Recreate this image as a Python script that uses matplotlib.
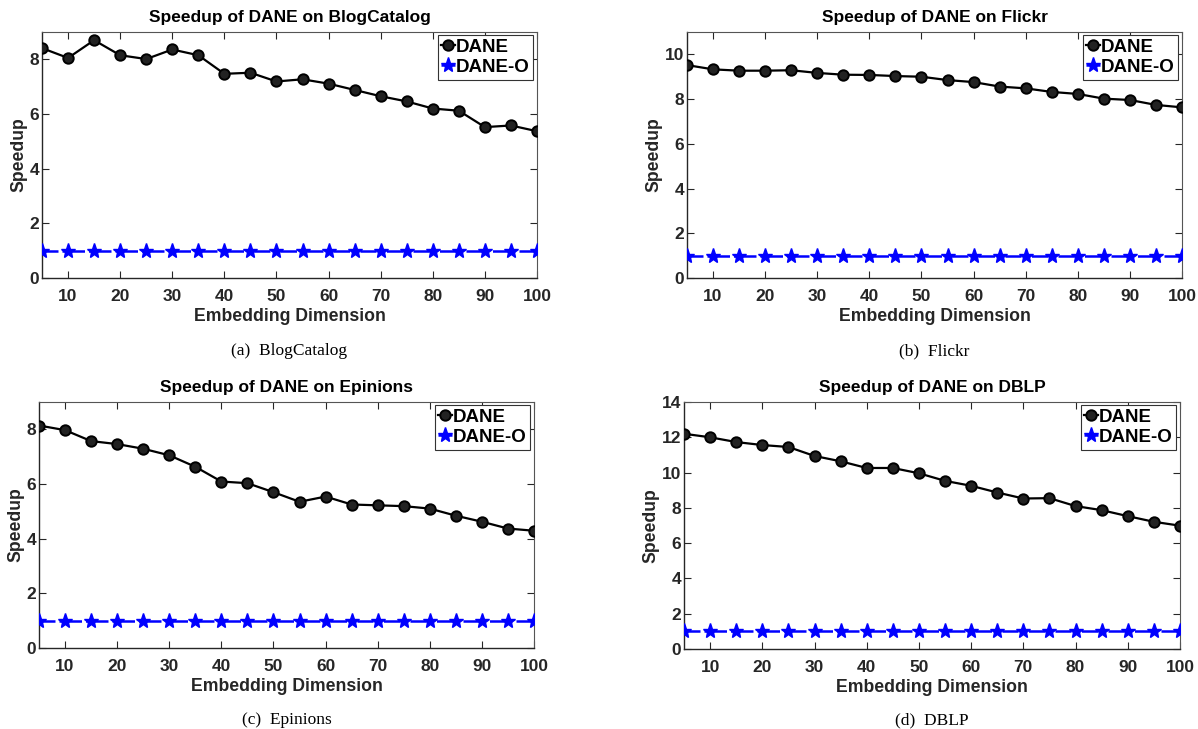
import matplotlib
matplotlib.use("Agg")
import matplotlib.pyplot as plt

dims = [5, 10, 15, 20, 25, 30, 35, 40, 45, 50, 55, 60, 65, 70, 75, 80, 85, 90, 95, 100]

blog_dane = [8.41, 8.05, 8.70, 8.15, 8.01, 8.36, 8.15, 7.47, 7.51, 7.19, 7.27, 7.11, 6.88, 6.65, 6.46, 6.20, 6.12, 5.52, 5.58, 5.37]
flickr_dane = [9.52, 9.33, 9.27, 9.27, 9.29, 9.17, 9.09, 9.08, 9.03, 9.00, 8.85, 8.76, 8.56, 8.48, 8.32, 8.23, 8.02, 7.96, 7.74, 7.63]
epinions_dane = [8.14, 7.97, 7.57, 7.46, 7.29, 7.05, 6.63, 6.09, 6.03, 5.70, 5.35, 5.54, 5.25, 5.22, 5.19, 5.10, 4.84, 4.62, 4.37, 4.29]
dblp_dane = [12.2, 12.0, 11.73, 11.56, 11.45, 10.94, 10.64, 10.26, 10.26, 9.96, 9.53, 9.25, 8.87, 8.53, 8.55, 8.10, 7.87, 7.53, 7.21, 6.99]
dane_o = [1.0] * 20

titles = ["Speedup of DANE on BlogCatalog", "Speedup of DANE on Flickr",
          "Speedup of DANE on Epinions", "Speedup of DANE on DBLP"]
captions = ["(a)  BlogCatalog", "(b)  Flickr", "(c)  Epinions", "(d)  DBLP"]
series = [blog_dane, flickr_dane, epinions_dane, dblp_dane]
ymaxes = [9, 11, 9, 14]
yticks_list = [[0, 2, 4, 6, 8], [0, 2, 4, 6, 8, 10], [0, 2, 4, 6, 8], [0, 2, 4, 6, 8, 10, 12, 14]]
xticks = [10, 20, 30, 40, 50, 60, 70, 80, 90, 100]

W, H = 1198, 729
fig = plt.figure(figsize=(W / 100, H / 100), dpi=100)

# pixel boxes: left, top, right, bottom
boxes = [(42, 32, 537, 278), (687, 32, 1182, 278), (39, 402, 534, 648), (684, 402, 1180, 649)]

font = "Liberation Sans"
txtc = "#262626"

for i, (l, t, r, b) in enumerate(boxes):
    aw, ah = r - l, b - t
    ax = fig.add_axes([l / W, 1 - b / H, aw / W, ah / H])
    ax.plot(dims, series[i], color="black", lw=1.6, marker="o", markersize=7.5,
            markerfacecolor="#222222", markeredgecolor="black", markeredgewidth=1.4,
            label="DANE", zorder=3)
    ax.plot(dims, dane_o, color="blue", lw=1.8, ls="-.", marker="*", markersize=11,
            markerfacecolor="blue", markeredgecolor="blue", label="DANE-O", zorder=3)
    ax.set_xlim(5, 100)
    ax.set_ylim(0, ymaxes[i])
    ax.set_xticks(xticks)
    ax.set_yticks(yticks_list[i])
    ax.tick_params(direction="in", top=True, right=True, length=5, width=0.8,
                   labelsize=12.5, colors=txtc)
    ax.tick_params(axis="x", pad=8)
    ax.tick_params(axis="y", pad=2)
    for lab in ax.get_xticklabels() + ax.get_yticklabels():
        lab.set_fontweight("bold")
        lab.set_fontfamily(font)
    for s in ["left", "bottom"]:
        ax.spines[s].set_color(txtc)
        ax.spines[s].set_linewidth(1.0)
    for s in ["top", "right"]:
        ax.spines[s].set_color("#555555")
        ax.spines[s].set_linewidth(0.8)
    ax.set_title(titles[i], fontsize=12.5, fontweight="bold", family=font, color="black", pad=7)
    ax.set_xlabel("Embedding Dimension", fontsize=12.7, fontweight="bold", family=font, color=txtc, labelpad=3)
    ax.set_ylabel("Speedup", fontsize=12.7, fontweight="bold", family=font, color=txtc, labelpad=1.5)
    leg = ax.legend(loc="upper right", bbox_to_anchor=(1 - 4 / aw, 1 - 3 / ah),
                    prop={"family": font, "weight": "bold", "size": 13.5},
                    handlelength=0.7, handletextpad=0.05, borderpad=0.2, labelspacing=0.15,
                    fancybox=False, framealpha=1, borderaxespad=0)
    leg.get_frame().set_edgecolor("#333333")
    leg.get_frame().set_linewidth(0.8)
    cx = (l + r) / 2 / W
    base = min(b + 77, H - 5)
    fig.text(cx, 1 - base / H, captions[i], ha="center", va="baseline", fontsize=12.5,
             family="Liberation Serif", color="black")

fig.savefig("out.png", dpi=100, facecolor="white")
